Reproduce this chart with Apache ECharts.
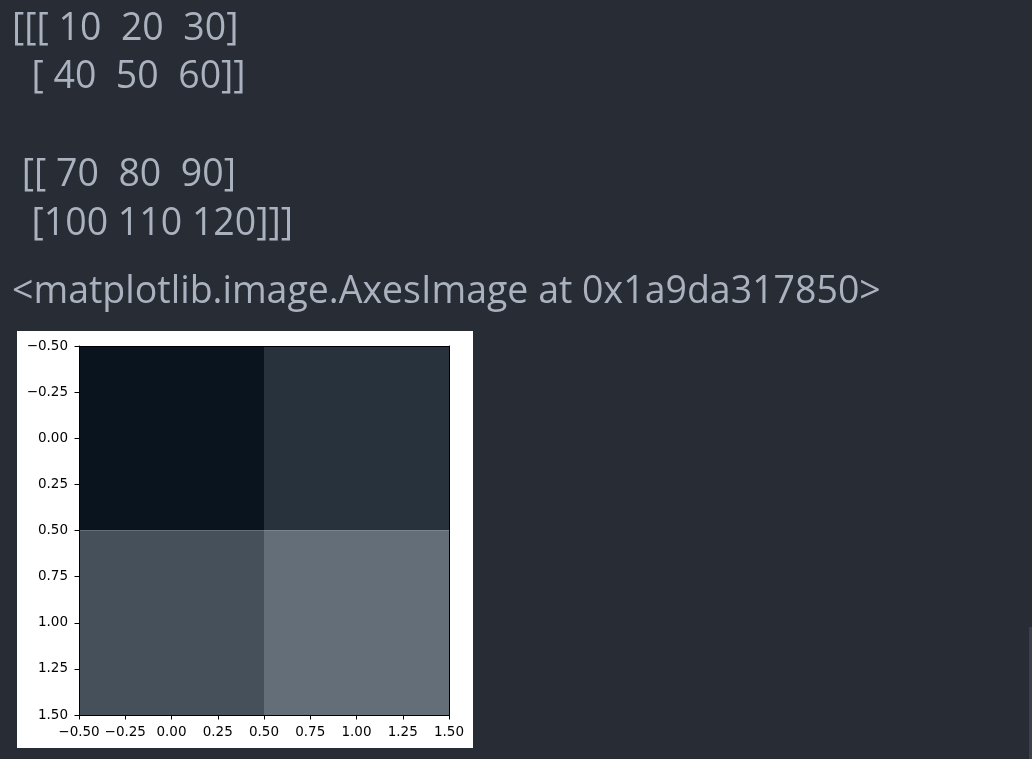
<!DOCTYPE html>
<html>
<head>
<meta charset="utf-8">
<script src="https://cdn.jsdelivr.net/npm/echarts@6/dist/echarts.min.js"></script>
<style>
  html, body { margin: 0; padding: 0; background: #282c34; }
  #chart { width: 1032px; height: 759px; }
</style>
</head>
<body>
<div id="chart"></div>
<script>
// ---- data ----
const pixelRow0 = [[10, 20, 30], [40, 50, 60]];
const pixelRow1 = [[70, 80, 90], [100, 110, 120]];
const outputLines = [
  '[[[ 10  20  30]',
  '  [ 40  50  60]]',
  '',
  ' [[ 70  80  90]',
  '  [100 110 120]]]'
];
const reprLine = '<matplotlib.image.AxesImage at 0x1a9da317850>';
const tickValues = [-0.5, -0.25, 0, 0.25, 0.5, 0.75, 1, 1.25, 1.5];

// ---- build ----
const imageRows = [pixelRow0, pixelRow1];
const cells = [];
imageRows.forEach((row, r) => row.forEach((px, c) => cells.push([c, r, px[0], px[1], px[2]])));

const fmt = v => (v < 0 ? '\u2212' : '') + Math.abs(v).toFixed(2);

const textColor = '#abb2bf';
const textFont = '"Open Sans", "Noto Sans", sans-serif';
const lineX = [12, 12, 12, 12, 12];
const lineY = [29, 77, 126, 175, 224];

const graphics = [
  { type: 'rect', z: -10, silent: true, shape: { x: 17, y: 331, width: 456, height: 417 }, style: { fill: '#ffffff' } },
  { type: 'rect', z: -10, silent: true, shape: { x: 1029, y: 627, width: 3, height: 132 }, style: { fill: '#3b404a' } }
];
outputLines.forEach((t, i) => {
  if (!t) return;
  graphics.push({ type: 'text', x: lineX[i], y: lineY[i], style: { text: t, fill: textColor, font: '37.5px ' + textFont, textVerticalAlign: 'middle' } });
});
graphics.push({ type: 'text', x: 12, y: 292, style: { text: reprLine, fill: textColor, font: '37.5px ' + textFont, textVerticalAlign: 'middle' } });

const axisCommon = {
  type: 'value', min: -0.5, max: 1.5, interval: 0.25, z: 10,
  splitLine: { show: false },
  axisLine: { show: true, onZero: false, lineStyle: { color: '#000', width: 1 } },
  axisTick: { show: true, length: 4.5, lineStyle: { color: '#000', width: 1 } },
  axisLabel: { color: '#000', fontFamily: 'DejaVu Sans', fontSize: 13.5, formatter: fmt, showMinLabel: true, showMaxLabel: true }
};

const chart = echarts.init(document.getElementById('chart'));
chart.setOption({
  animation: false,
  backgroundColor: '#282c34',
  graphic: graphics,
  grid: { left: 79, top: 346, width: 370, height: 369, show: false },
  xAxis: [
    Object.assign({}, axisCommon, { position: 'bottom', axisLabel: Object.assign({}, axisCommon.axisLabel, { margin: 10 }) }),
    Object.assign({}, axisCommon, { position: 'top', axisTick: { show: false }, axisLabel: { show: false } })
  ],
  yAxis: [
    Object.assign({}, axisCommon, { inverse: true, position: 'left', axisLabel: Object.assign({}, axisCommon.axisLabel, { margin: 11 }) }),
    Object.assign({}, axisCommon, { inverse: true, position: 'right', axisTick: { show: false }, axisLabel: { show: false } })
  ],
  series: [{
    type: 'custom',
    xAxisIndex: 0, yAxisIndex: 0,
    data: cells,
    renderItem: function (params, api) {
      const c = api.value(0), r = api.value(1);
      const p0 = api.coord([c - 0.5, r - 0.5]);
      const p1 = api.coord([c + 0.5, r + 0.5]);
      return {
        type: 'rect',
        shape: { x: Math.min(p0[0], p1[0]), y: Math.min(p0[1], p1[1]), width: Math.abs(p1[0] - p0[0]), height: Math.abs(p1[1] - p0[1]) },
        style: { fill: 'rgb(' + api.value(2) + ',' + api.value(3) + ',' + api.value(4) + ')' }
      };
    }
  }]
});
</script>
</body>
</html>
